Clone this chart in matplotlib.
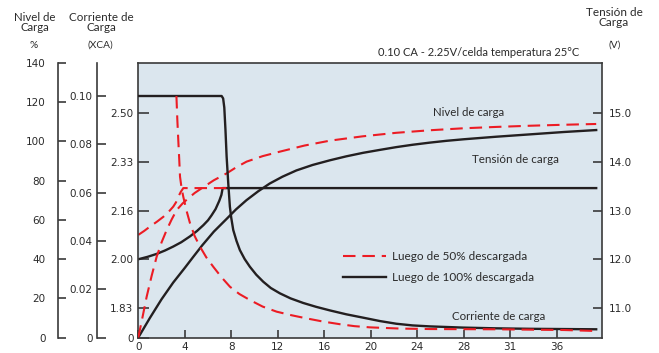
import matplotlib
matplotlib.use('Agg')
import matplotlib.pyplot as plt

plt.rcParams['font.family'] = ['Lato', 'DejaVu Sans']

# ---------------- data ----------------
# Charging current (x CA) vs time (h)
x_cur_100 = [0, 7.17, 7.30, 7.40, 7.50, 7.60, 7.74, 7.88, 8.0, 8.17, 8.45, 8.74, 9.15,
             9.60, 10.15, 10.75, 11.4, 12.18, 13.1, 14.19, 15.3, 16.5, 17.9, 19.36,
             20.8, 22.2, 23.6, 25.1, 27.96, 30.8, 33.7, 36.6, 39.4]
cur_100 = [0.100, 0.100, 0.0990, 0.0952, 0.0860, 0.0749, 0.0639, 0.0542, 0.0495, 0.0445,
           0.0400, 0.0362, 0.0325, 0.0293, 0.0260, 0.0231, 0.0205, 0.0183, 0.0162,
           0.0143, 0.0127, 0.0112, 0.0096, 0.0082, 0.0068, 0.0057, 0.0050, 0.0046,
           0.0041, 0.0038, 0.0036, 0.0035, 0.0034]
x_cur_50 = [3.28, 3.36, 3.44, 3.52, 3.59, 3.72, 3.87, 4.15, 4.45, 4.85, 5.31, 5.85, 6.45,
            7.15, 7.89, 8.7, 9.61, 10.7, 11.9, 13.2, 14.49, 15.9, 17.35, 18.6, 19.93,
            22.5, 25.1, 30.8, 36.6, 39.4]
cur_50 = [0.100, 0.0900, 0.0818, 0.0740, 0.0666, 0.0620, 0.0583, 0.0525, 0.0473, 0.0420,
          0.0376, 0.0332, 0.0293, 0.0250, 0.0210, 0.0180, 0.0155, 0.0128, 0.0107,
          0.0092, 0.0079, 0.0066, 0.0055, 0.0047, 0.0042, 0.0037, 0.0035, 0.0034,
          0.0031, 0.0027]

# Charging voltage (V) vs time (h)
x_v100 = [0, 0.8, 1.58, 2.3, 3.0, 3.7, 4.45, 5.05, 5.6, 6.0, 6.3, 6.65, 6.97, 7.15,
          7.26, 39.4]
v100 = [12.00, 12.05, 12.11, 12.18, 12.26, 12.35, 12.47, 12.58, 12.70, 12.80, 12.90,
        13.03, 13.20, 13.32, 13.46, 13.46]
x_v50 = [0, 0.5, 1.0, 1.6, 2.15, 2.6, 3.01, 3.25, 3.44, 3.65, 3.87, 8.03]
v50 = [12.50, 12.58, 12.67, 12.77, 12.87, 12.97, 13.08, 13.17, 13.28, 13.38, 13.46, 13.46]

# State of charge (%) vs time (h)
x_p100 = [0, 1.0, 2.0, 3.0, 4.0, 4.75, 5.5, 6.5, 7.6, 8.4, 9.3, 10.3, 11.3, 12.4, 13.6,
          15.0, 16.5, 17.9, 19.35, 20.8, 22.2, 23.6, 25.1, 26.5, 28.0, 30.8, 33.7,
          36.6, 39.4]
p100 = [0, 10, 19.5, 28, 35.5, 41.3, 47, 54, 60.5, 65.3, 70, 74.5, 78.5, 82, 85.2,
        88.0, 90.4, 92.4, 94.2, 95.7, 97.1, 98.3, 99.4, 100.3, 101.1, 102.4, 103.6,
        104.8, 105.8]
x_p50 = [0, 0.35, 0.72, 1.15, 1.58, 2.0, 2.44, 2.87, 3.30, 3.8, 4.30, 4.85, 5.45, 6.5,
         7.60, 8.45, 9.32, 10.7, 12.19, 14.3, 16.49, 19.3, 22.2, 25.1, 27.96, 30.8,
         33.7, 36.6, 39.4]
p50 = [0, 10, 20.8, 31.5, 41.2, 48.5, 54.8, 60.2, 65.0, 68.3, 71.0, 73.7, 76.1, 80.2,
       83.7, 86.9, 89.7, 92.5, 94.8, 97.9, 100.4, 102.6, 104.4, 105.7, 106.7, 107.4,
       108.0, 108.5, 108.9]

x_ticks = [0, 4, 8, 12, 16, 20, 24, 28, 32, 36]
x_labels = ['0', '4', '8', '12', '16', '20', '24', '28', '31', '36']
volt_ticks = [11, 12, 13, 14, 15]
volt_labels = ['11.0', '12.0', '13.0', '14.0', '15.0']
cell_labels = ['0', '1.83', '2.00', '2.16', '2.33', '2.50']
pct_ticks = [0, 20, 40, 60, 80, 100, 120, 140]
cur_ticks = [0, 0.02, 0.04, 0.06, 0.08, 0.10]
cur_labels = ['0', '0.02', '0.04', '0.06', '0.08', '0.10']

label_50 = 'Luego de 50% descargada'
label_100 = 'Luego de 100% descargada'

# ---------------- style ----------------
W, H = 659, 353
RED = '#ec1c24'
BLK = '#231f20'
TXT = '#2a2a2a'
SPN = '#3a3a3a'
BG = '#dbe6ee'
DASH = (0, (6, 3.3))

fig = plt.figure(figsize=(W / 100, H / 100), dpi=100)
L, R, T, B = 138.3, 602.0, 63.0, 337.5
ax = fig.add_axes([L / W, 1 - B / H, (R - L) / W, (B - T) / H])
ax.set_facecolor(BG)
vmin, vmax = 10.395, 16.026
ax.set_xlim(0, 39.9)
ax.set_ylim(vmin, vmax)
for s in ax.spines.values():
    s.set_color(SPN)
    s.set_linewidth(1.2)

tickfont = dict(family='DejaVu Sans', size=7.5)

ax.set_xticks(x_ticks)
ax.set_xticklabels(x_labels, fontdict=tickfont)
ax.tick_params(axis='x', direction='in', length=5.5, width=1.2, color=SPN,
               pad=3, labelcolor=TXT)
ax.set_yticks([vmin] + volt_ticks)
ax.set_yticklabels(cell_labels, fontdict=tickfont)
ax.tick_params(axis='y', direction='in', length=8, width=1.2, color=SPN,
               pad=3.5, labelcolor=TXT)

# right voltage axis
axr = ax.twinx()
axr.set_ylim(vmin, vmax)
for s in axr.spines.values():
    s.set_visible(False)
axr.set_yticks(volt_ticks)
axr.set_yticklabels(volt_labels, fontdict=tickfont)
axr.tick_params(axis='y', direction='in', length=6.5, width=1.2, color=SPN,
                pad=5, labelcolor=TXT)

# percent axis
axp = ax.twinx()
axp.set_ylim(0, 140)
for k, s in axp.spines.items():
    s.set_visible(k == 'left')
axp.spines['left'].set_position(('axes', (58.3 - L) / (R - L)))
axp.spines['left'].set_color(SPN)
axp.spines['left'].set_linewidth(1.2)
axp.yaxis.set_ticks_position('left')
axp.yaxis.set_label_position('left')
axp.set_yticks(pct_ticks)
axp.set_yticklabels([str(t) for t in pct_ticks], fontdict=tickfont)
axp.tick_params(axis='y', direction='in', length=6, width=1.2, color=SPN,
                pad=9, labelcolor=TXT)

# current axis
axc = ax.twinx()
cmax = 0.10 * (B - T) / (B - 96.0)
axc.set_ylim(0, cmax)
for k, s in axc.spines.items():
    s.set_visible(k == 'left')
axc.spines['left'].set_position(('axes', (97.0 - L) / (R - L)))
axc.spines['left'].set_color(SPN)
axc.spines['left'].set_linewidth(1.2)
axc.yaxis.set_ticks_position('left')
axc.yaxis.set_label_position('left')
axc.set_yticks(cur_ticks)
axc.set_yticklabels(cur_labels, fontdict=tickfont)
axc.tick_params(axis='y', direction='in', length=6.5, width=1.2, color=SPN,
                pad=3, labelcolor=TXT)

# ---------------- curves ----------------
ax.plot(x_v100, v100, color=BLK, lw=1.7, solid_joinstyle='round')
ax.plot(x_v50, v50, color=RED, lw=1.5, linestyle=DASH)
axp.plot(x_p100, p100, color=BLK, lw=1.7, solid_joinstyle='round')
axp.plot(x_p50, p50, color=RED, lw=1.5, linestyle=DASH)
axc.plot(x_cur_100, cur_100, color=BLK, lw=1.7, solid_joinstyle='round', label=label_100)
axc.plot(x_cur_50, cur_50, color=RED, lw=1.5, linestyle=DASH, label=label_50)

h, l = axc.get_legend_handles_labels()
leg = axc.legend(h[::-1], l[::-1], loc='center left',
                 bbox_to_anchor=(342.7 / W, 1 - 266.7 / H),
                 bbox_transform=fig.transFigure, frameon=False,
                 fontsize=8.5, handlelength=3.7, handletextpad=0.45,
                 labelspacing=0.85, borderpad=0, borderaxespad=0,
                 labelcolor=TXT)

# ---------------- text ----------------
def ftext(x, y, s, size=7.5, **kw):
    fig.text(x / W, 1 - y / H, s, ha='center', va='center', fontsize=size,
             color=TXT, **kw)

ftext(35, 22.5, 'Nivel de\nCarga', size=8.2, linespacing=0.85)
ftext(34, 46, '%', size=7.3)
ftext(101, 22.5, 'Corriente de\nCarga', size=8.4, linespacing=0.85)
ftext(100, 45, '(XCA)', size=7.3)
ftext(614, 17.5, 'Tensión de\nCarga', size=8.5, linespacing=0.85)
ftext(615, 45, '(V)', size=7.3)
ftext(478.5, 52, '0.10 CA - 2.25V/celda temperatura 25°C', size=8.0)
ftext(469, 113, 'Nivel de carga', size=8.2)
ftext(515.5, 159, 'Tensión de carga', size=8.4)
ftext(499, 316, 'Corriente de carga', size=8.3)

fig.savefig('out.png', dpi=100)
